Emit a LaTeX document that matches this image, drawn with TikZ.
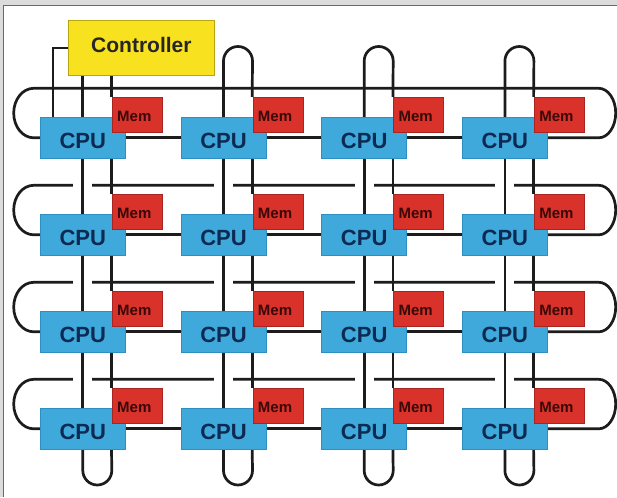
\documentclass[tikz,border=0pt]{standalone}
\usepackage{fontspec}
\setmainfont{Liberation Sans}
\usetikzlibrary{calc}
\definecolor{cpublue}{HTML}{3FA9DB}
\definecolor{cpuedge}{HTML}{2E8FC2}
\definecolor{memred}{HTML}{D8322A}
\definecolor{memedge}{HTML}{A82420}
\definecolor{ctrlyel}{HTML}{F8E220}
\definecolor{ctrledge}{HTML}{B8A510}
\definecolor{cputext}{HTML}{0C2A52}
\definecolor{memtext}{HTML}{3A0808}
\definecolor{wirecol}{HTML}{1C1C1C}
\definecolor{framebg}{HTML}{DCDCDC}
\definecolor{frameline}{HTML}{6A6A6A}
\pgfdeclarelayer{back}
\pgfdeclarelayer{wires}
\pgfsetlayers{back,wires,main}
\begin{document}
\begin{tikzpicture}[x=1pt,y=-1pt,
  cpubox/.style={draw=cpuedge, line width=0.6pt, fill=cpublue, minimum width=85pt,
    minimum height=41pt, inner sep=0pt, anchor=north west, text=cputext,
    font=\fontsize{22}{22}\selectfont\bfseries, text height=20.8pt, text depth=0pt},
  membox/.style={draw=memedge, line width=0.6pt, fill=memred, minimum width=50pt,
    minimum height=35pt, inner sep=0pt, anchor=north west, text=memtext,
    font=\fontsize{15}{15}\selectfont\bfseries, text height=13.8pt, text depth=0pt},
  ctrlbox/.style={draw=ctrledge, line width=0.8pt, fill=ctrlyel, minimum width=146pt,
    minimum height=55pt, inner sep=0pt, anchor=north west, text=black!85,
    font=\fontsize{21}{21}\selectfont\bfseries, text height=9pt, text depth=0pt},
  wire/.style={draw=wirecol, line width=2.7pt},
  hop/.style={preaction={draw=white, line width=19pt}}
]
\useasboundingbox (0,0) rectangle (617,497);
\begin{pgfonlayer}{back}
  \fill[white] (0,0) rectangle (617,497);
  \fill[framebg] (0,0) rectangle (617,5);
  \fill[framebg] (0,0) rectangle (3,497);
  \draw[frameline, line width=1.4pt] (3.5,497) -- (3.5,5.5) -- (617,5.5);
\end{pgfonlayer}

% nodes
\node[ctrlbox] (ctrl) at (68,20) {Controller};
\foreach \c/\L in {1/40,2/180.7,3/321.4,4/462.1}{
  \coordinate (col-\c) at (\L+71.5,0);
  \foreach \r/\T in {1/117,2/214,3/311,4/408}{
    \node[cpubox] (cpu-\r-\c) at (\L,\T) {CPU};
  }
}
\foreach \c/\L in {1/40,2/180.7,3/321.4,4/462.1}{
  \foreach \r/\T in {1/117,2/214,3/311,4/408}{
    \node[membox] (mem-\r-\c) at (\L+72,\T-20) {Mem\kern6pt};
  }
}
\coordinate (topy) at (0,61);
\coordinate (boty) at (0,470.5);

\begin{pgfonlayer}{wires}
  % row rings (wrap-around return lines)
  \foreach \r in {1,...,4}{
    \draw[wire] (cpu-\r-4.east) -- ++(51,0)
      arc[start angle=90, end angle=-90, x radius=17, y radius=24.75]
      -- ++(-565,0)
      arc[start angle=270, end angle=90, x radius=20, y radius=24.75]
      -- (cpu-\r-1.west);
  }
  % horizontal links
  \foreach \r in {1,...,4}{
    \foreach \c [evaluate=\c as \n using int(\c+1)] in {1,2,3}{
      \draw[wire] (cpu-\r-\c.east) -- (cpu-\r-\n.west);
    }
  }
  % vertical links between CPUs (hop over return lines)
  \foreach \r [evaluate=\r as \n using int(\r+1)] in {1,2,3}{
    \foreach \c in {1,...,4}{
      \draw[wire,hop] (cpu-\r-\c.south) -- (cpu-\n-\c.north);
      \draw[wire] (col-\c |- cpu-\r-\c.south) -- (col-\c |- mem-\n-\c.north);
    }
  }
  % controller links
  \draw[wire] (cpu-1-1.north) -- (cpu-1-1.north |- ctrl.south);
  \draw[wire] (col-1 |- ctrl.south) -- (col-1 |- mem-1-1.north);
  \draw[wire] (ctrl.west) -| ($(cpu-1-1.north west)+(13,0)$);
  % top loops
  \foreach \c in {2,3,4}{
    \draw[wire] (cpu-1-\c.north) -- (cpu-1-\c.north |- topy)
      arc[start angle=180, end angle=360, radius=14.5]
      -- (col-\c |- mem-1-\c.north);
  }
  % bottom loops
  \foreach \c in {1,...,4}{
    \draw[wire] (cpu-4-\c.south) -- (cpu-4-\c.south |- boty)
      arc[start angle=180, end angle=0, radius=14.5]
      -- (col-\c |- cpu-4-\c.south);
  }
\end{pgfonlayer}
\end{tikzpicture}
\end{document}
